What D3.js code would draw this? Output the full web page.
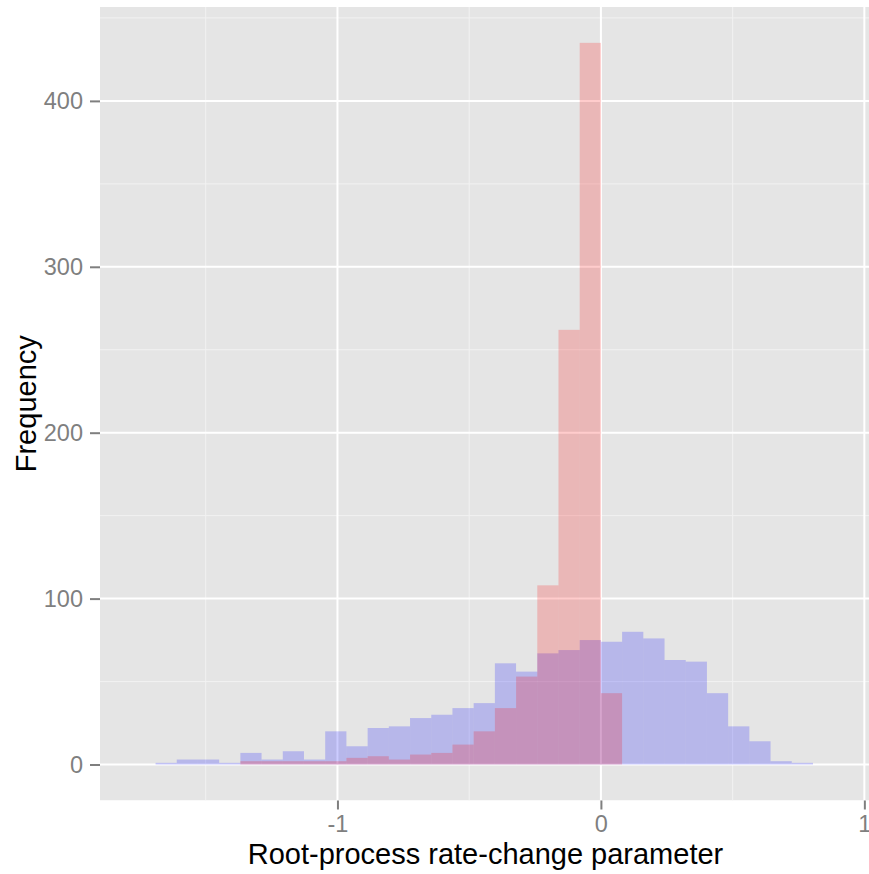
<!DOCTYPE html>
<html><head><meta charset="utf-8">
<script src="https://cdn.jsdelivr.net/npm/d3@7"></script>
<style>body{margin:0;background:#fff} svg{display:block}</style>
</head><body><svg id="c" width="869" height="874"></svg>
<script>
// Histogram data (bin index k covers [k*binWidth, (k+1)*binWidth))
const binWidth = 0.0805;
const blueFirstBin = -21;
const blueCounts = [1,3,3,1,7,3,8,3,20,11,22,23,28,30,34,37,61,56,67,69,75,74,80,76,63,62,43,23,14,2,1];
const redFirstBin = -17;
const redCounts = [2,2,2,2,2,4,5,3,6,7,12,20,34,53,108,262,435,43];
const xTicks = [-1, 0, 1];
const xMinor = [-1.5, -0.5, 0.5];
const yTicks = [0, 100, 200, 300, 400];
const yMinor = [50, 150, 250, 350, 450];
const xTitle = "Root-process rate-change parameter";
const yTitle = "Frequency";

const toBins = (first, counts) => counts.map((c, i) => ({x0: (first + i) * binWidth, x1: (first + i + 1) * binWidth, n: c}));
const blueBins = toBins(blueFirstBin, blueCounts);
const redBins = toBins(redFirstBin, redCounts);

const P = {l: 100, t: 7, r: 872, b: 800.5};
const svg = d3.select("#c");
const font = "'Liberation Sans', Arial, Helvetica, sans-serif";

const x = d3.scaleLinear().domain([-1.9013, 1.0290]).range([P.l, P.r]);
const y = d3.scaleLinear().domain([-21.7, 456.6]).range([P.b, P.t]);

svg.append("clipPath").attr("id", "clip").append("rect")
  .attr("x", P.l).attr("y", P.t).attr("width", P.r - P.l).attr("height", P.b - P.t);

const panel = svg.append("g").attr("clip-path", "url(#clip)");
panel.append("rect").attr("x", P.l).attr("y", P.t).attr("width", P.r - P.l).attr("height", P.b - P.t).attr("fill", "#E5E5E5");

panel.selectAll(".vminor").data(xMinor).join("line")
  .attr("x1", d => x(d)).attr("x2", d => x(d)).attr("y1", P.t).attr("y2", P.b)
  .attr("stroke", "#F2F2F2").attr("stroke-width", 1);
panel.selectAll(".hminor").data(yMinor).join("line").attr("class", "hminor")
  .attr("y1", d => y(d)).attr("y2", d => y(d)).attr("x1", P.l).attr("x2", P.r)
  .attr("stroke", "#F2F2F2").attr("stroke-width", 1);
panel.selectAll(".vmajor").data(xTicks).join("line").attr("class", "vmajor")
  .attr("x1", d => x(d)).attr("x2", d => x(d)).attr("y1", P.t).attr("y2", P.b)
  .attr("stroke", "#FFFFFF").attr("stroke-width", 2);
panel.selectAll(".hmajor").data(yTicks).join("line").attr("class", "hmajor")
  .attr("y1", d => y(d)).attr("y2", d => y(d)).attr("x1", P.l).attr("x2", P.r)
  .attr("stroke", "#FFFFFF").attr("stroke-width", 2);

function drawBins(bins, color, cls) {
  panel.selectAll("." + cls).data(bins).join("rect").attr("class", cls)
    .attr("x", d => x(d.x0)).attr("width", d => x(d.x1) - x(d.x0))
    .attr("y", d => y(d.n)).attr("height", d => y(0) - y(d.n))
    .attr("fill", color).attr("fill-opacity", 0.2);
}
drawBins(blueBins, "#0000FF", "blue");
drawBins(redBins, "#FF0000", "red");

const yAxis = svg.append("g").attr("transform", `translate(${P.l},0)`)
  .call(d3.axisLeft(y).tickValues(yTicks).tickSize(10).tickPadding(7).tickFormat(d => String(d)));
const xAxis = svg.append("g").attr("transform", `translate(0,${P.b})`)
  .call(d3.axisBottom(x).tickValues(xTicks).tickSize(9).tickPadding(6).tickFormat(d => String(d)));
[xAxis, yAxis].forEach(a => {
  a.select(".domain").remove();
  a.selectAll(".tick line").attr("stroke", "#7F7F7F").attr("stroke-width", 2);
  a.selectAll(".tick text").attr("fill", "#7F7F7F").attr("font-size", 23.5).attr("font-family", font);
});

svg.append("text").attr("x", (P.l + 869) / 2 + 1).attr("y", 864)
  .attr("text-anchor", "middle").attr("font-size", 29).attr("font-family", font).attr("fill", "#000")
  .text(xTitle);
svg.append("text").attr("transform", `translate(36,${(P.t + P.b) / 2}) rotate(-90)`)
  .attr("text-anchor", "middle").attr("font-size", 29).attr("font-family", font).attr("fill", "#000")
  .text(yTitle);
</script></body></html>
